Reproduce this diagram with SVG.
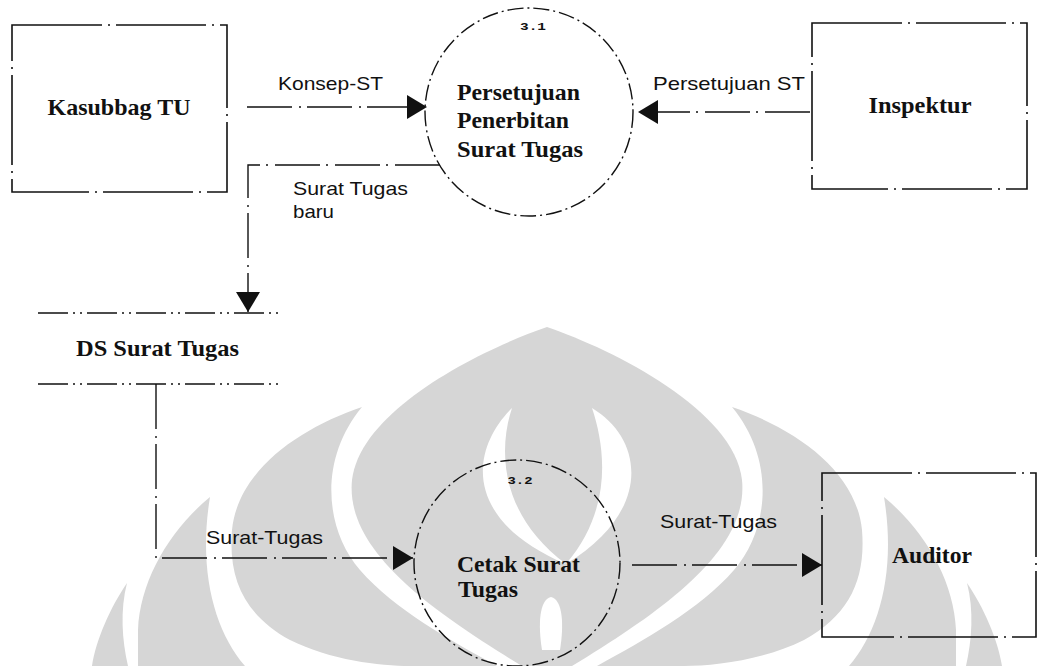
<svg xmlns="http://www.w3.org/2000/svg" width="1038" height="666" viewBox="0 0 1038 666">
  <style>
    .bg { fill: #ffffff; }
    .wm { fill: #d6d6d6; }
    .wmcut { fill: #ffffff; }
    .box { fill: none; stroke: #111; stroke-width: 1.6; stroke-dasharray: 90 6 2 6; }
    .proc { fill: none; stroke: #111; stroke-width: 1.4; stroke-dasharray: 16 4 2 4; }
    .store { fill: none; stroke: #111; stroke-width: 1.5; stroke-dasharray: 30 5 2 5 2 5; }
    .flow { fill: none; stroke: #111; stroke-width: 1.4; stroke-dasharray: 45 7 2 6; }
    .title { font-family: "Liberation Serif", "Times New Roman", serif; font-weight: bold; font-size: 24px; fill: #111; }
    .label { font-family: "Liberation Sans", Arial, sans-serif; font-size: 18.5px; fill: #111; }
    .num { font-family: "Liberation Mono", "Courier New", monospace; font-weight: bold; font-size: 11px; fill: #111; }
  </style>
  <defs>
    <marker id="arrow" viewBox="0 0 20 24" refX="20" refY="12" markerWidth="20" markerHeight="24" orient="auto" markerUnits="userSpaceOnUse">
      <path d="M0,0 L20,12 L0,24 Z" fill="#111"/>
    </marker>
    <!-- left half of the background emblem; mirrored for the right half -->
    <g id="emblem-half">
      <path class="wm" d="M362,407 C300,428 238,470 232,530 C228,580 245,615 290,640 C330,660 380,666 410,666 L497,666 C450,640 395,610 360,570 C325,530 318,460 362,407 Z"/>
      <path class="wm" d="M210,497 C170,530 140,580 138,630 L138,666 L245,666 C214,630 198,570 210,497 Z"/>
      <path class="wm" d="M127,583 C110,608 96,640 92,666 L128,666 C122,640 120,610 127,583 Z"/>
    </g>
  </defs>

  <rect class="bg" x="0" y="0" width="1038" height="666"/>

  <!-- background emblem -->
  <g id="emblem">
    <use href="#emblem-half"/>
    <use href="#emblem-half" transform="translate(1094,0) scale(-1,1)"/>
    <path class="wm" d="M547,327 C480,350 360,410 352,480 C345,550 430,610 522,666 L572,666 C664,610 749,550 742,480 C734,410 614,350 547,327 Z"/>
    <path class="wmcut" d="M512,408 C470,450 462,520 566,564 C500,515 498,450 512,408 Z"/>
    <path class="wmcut" d="M592,408 C645,440 652,512 566,564 C612,510 606,450 592,408 Z"/>
    <path class="wmcut" d="M551,597 C539,600 538,625 542,650 L560,650 C564,625 563,600 551,597 Z"/>
  </g>

  <!-- connectors -->
  <g id="connectors">
    <path class="flow" d="M247,107 L427,107" marker-end="url(#arrow)"/>
    <path class="flow" d="M810,112 L638,112" marker-end="url(#arrow)"/>
    <path class="flow" d="M440,165 L248,165 L248,312" marker-end="url(#arrow)"/>
    <path class="flow" d="M156,384 L156,558 L413,558" marker-end="url(#arrow)"/>
    <path class="flow" d="M632,565 L822,565" marker-end="url(#arrow)"/>
    <text class="label" x="278" y="90" textLength="105" lengthAdjust="spacingAndGlyphs">Konsep-ST</text>
    <text class="label" x="653" y="90" textLength="152" lengthAdjust="spacingAndGlyphs">Persetujuan ST</text>
    <text class="label" x="293" y="195" textLength="115" lengthAdjust="spacingAndGlyphs">Surat Tugas</text>
    <text class="label" x="293" y="218" textLength="41" lengthAdjust="spacingAndGlyphs">baru</text>
    <text class="label" x="206" y="544" textLength="117" lengthAdjust="spacingAndGlyphs">Surat-Tugas</text>
    <text class="label" x="660" y="528" textLength="117" lengthAdjust="spacingAndGlyphs">Surat-Tugas</text>
  </g>

  <!-- external entity: Kasubbag TU -->
  <g id="kasubbag-tu">
    <rect class="box" x="12" y="25" width="215" height="167"/>
    <text class="title" x="119" y="115" text-anchor="middle" textLength="143" lengthAdjust="spacingAndGlyphs">Kasubbag TU</text>
  </g>

  <!-- process 3.1 -->
  <g id="proc-3-1">
    <circle class="proc" cx="529" cy="112" r="104"/>
    <text class="num" x="533" y="30" text-anchor="middle" textLength="26" lengthAdjust="spacingAndGlyphs">3.1</text>
    <text class="title" x="457" y="100" textLength="123" lengthAdjust="spacingAndGlyphs">Persetujuan</text>
    <text class="title" x="457" y="128" textLength="112" lengthAdjust="spacingAndGlyphs">Penerbitan</text>
    <text class="title" x="457" y="157" textLength="126" lengthAdjust="spacingAndGlyphs">Surat Tugas</text>
  </g>

  <!-- external entity: Inspektur -->
  <g id="inspektur">
    <rect class="box" x="812" y="23" width="215" height="166"/>
    <text class="title" x="920" y="113" text-anchor="middle" textLength="103" lengthAdjust="spacingAndGlyphs">Inspektur</text>
  </g>

  <!-- data store -->
  <g id="ds-surat-tugas">
    <path class="store" d="M38,313 L279,313 M38,384 L280,384"/>
    <text class="title" x="76" y="356" textLength="163" lengthAdjust="spacingAndGlyphs">DS Surat Tugas</text>
  </g>

  <!-- process 3.2 -->
  <g id="proc-3-2">
    <circle class="proc" cx="517" cy="563" r="103"/>
    <text class="num" x="520" y="484" text-anchor="middle" textLength="25" lengthAdjust="spacingAndGlyphs">3.2</text>
    <text class="title" x="457" y="572" textLength="123" lengthAdjust="spacingAndGlyphs">Cetak Surat</text>
    <text class="title" x="458" y="597" textLength="60" lengthAdjust="spacingAndGlyphs">Tugas</text>
  </g>

  <!-- external entity: Auditor -->
  <g id="auditor">
    <rect class="box" x="822" y="473" width="214" height="164"/>
    <text class="title" x="932" y="563" text-anchor="middle" textLength="80" lengthAdjust="spacingAndGlyphs">Auditor</text>
  </g>
</svg>
